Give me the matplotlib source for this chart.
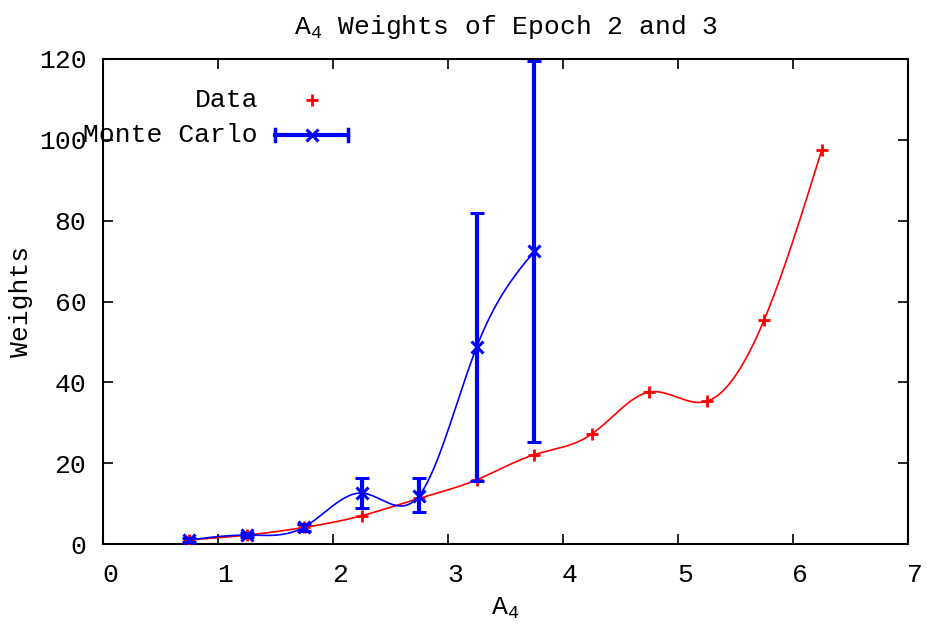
import numpy as np
import matplotlib
matplotlib.use("Agg")
import matplotlib.pyplot as plt
from matplotlib.transforms import ScaledTranslation

plt.rcParams['font.family'] = ['Liberation Mono', 'DejaVu Sans Mono']
plt.rcParams['mathtext.fontset'] = 'custom'
plt.rcParams['mathtext.rm'] = 'Liberation Mono'
plt.rcParams['mathtext.it'] = 'Liberation Mono'

# Data
data_x = [0.75, 1.25, 1.75, 2.25, 2.75, 3.25, 3.75, 4.25, 4.75, 5.25, 5.75, 6.25]
data_y = [1.0, 2.2, 4.1, 7.0, 11.3, 15.9, 22.1, 27.2, 37.6, 35.3, 55.5, 97.5]

mc_x = [0.75, 1.25, 1.75, 2.25, 2.75, 3.25, 3.75]
mc_y = [1.0, 2.2, 4.2, 12.6, 12.0, 48.8, 72.4]
mc_lo = [0.6, 1.8, 3.3, 8.8, 7.8, 15.5, 25.2]
mc_hi = [1.4, 2.6, 5.0, 16.3, 16.3, 82.0, 119.5]

xticks = [0, 1, 2, 3, 4, 5, 6, 7]
yticks = [0, 20, 40, 60, 80, 100, 120]


def natural_cspline(x, y, n=400):
    x = np.asarray(x, float)
    y = np.asarray(y, float)
    m = len(x)
    h = np.diff(x)
    A = np.zeros((m, m))
    b = np.zeros(m)
    A[0, 0] = 1
    A[-1, -1] = 1
    for i in range(1, m - 1):
        A[i, i - 1] = h[i - 1]
        A[i, i] = 2 * (h[i - 1] + h[i])
        A[i, i + 1] = h[i]
        b[i] = 6 * ((y[i + 1] - y[i]) / h[i] - (y[i] - y[i - 1]) / h[i - 1])
    M = np.linalg.solve(A, b)
    xs = np.linspace(x[0], x[-1], n)
    idx = np.clip(np.searchsorted(x, xs) - 1, 0, m - 2)
    x0 = x[idx]
    x1 = x[idx + 1]
    hh = x1 - x0
    t0 = x1 - xs
    t1 = xs - x0
    ys = (M[idx] * t0 ** 3 / (6 * hh) + M[idx + 1] * t1 ** 3 / (6 * hh)
          + (y[idx] / hh - M[idx] * hh / 6) * t0
          + (y[idx + 1] / hh - M[idx + 1] * hh / 6) * t1)
    return xs, ys


fig = plt.figure(figsize=(9.27, 6.3), dpi=100)
ax = fig.add_axes([103 / 927, 1 - 544 / 630, 805 / 927, 485 / 630])

fs = 19

# Data curve
sx, sy = natural_cspline(data_x, data_y)
ax.plot(sx, sy, color='#ff0000', lw=1.2, zorder=3)
ax.plot(data_x, data_y, linestyle='none', marker='+', color='#ff0000',
        ms=8, mew=2, zorder=4)

# Monte Carlo curve
mx, my = natural_cspline(mc_x, mc_y)
ax.plot(mx, my, color='#0000ff', lw=1.2, zorder=5)
yerr = [np.array(mc_y) - np.array(mc_lo), np.array(mc_hi) - np.array(mc_y)]
ax.errorbar(mc_x, mc_y, yerr=yerr, fmt='x', color='#0000ff', ms=8, mew=2.2,
            elinewidth=3, capsize=5, capthick=2.5, zorder=6)

ax.set_xlim(0, 7)
ax.set_ylim(0, 120)
ax.set_xticks(xticks)
ax.set_yticks(yticks)
ax.tick_params(direction='in', length=7, width=1.2, top=True, right=True,
               labelsize=fs, colors='black')
ax.tick_params(axis='x', pad=14)
ax.tick_params(axis='y', pad=12)
for sp in ax.spines.values():
    sp.set_linewidth(1.5)

shift = ScaledTranslation(7 / 100, 0, fig.dpi_scale_trans)
for lab in ax.get_xticklabels():
    lab.set_transform(lab.get_transform() + shift)

ax.set_title(r'A$_{\mathrm{4}}$ Weights of Epoch 2 and 3', fontsize=fs, pad=18)
ax.set_xlabel(r'A$_{\mathrm{4}}$', fontsize=fs, labelpad=6)
ax.set_ylabel('Weights', fontsize=fs)
ax.yaxis.set_label_coords(-0.087, 0.5)

# Key (gnuplot style)
tr = ax.transAxes
ax.text(0.1925, 0.9155, 'Data', transform=tr, ha='right', va='center', fontsize=fs)
ax.plot([0.2596], [0.9155], transform=tr, marker='+', color='#ff0000',
        ms=8, mew=2, linestyle='none', clip_on=False)
ax.text(0.1925, 0.8433, 'Monte Carlo', transform=tr, ha='right', va='center', fontsize=fs)
ax.plot([0.2137, 0.3043], [0.8433, 0.8433], transform=tr, color='#0000ff', lw=3,
        clip_on=False)
for xe in (0.2137, 0.3043):
    ax.plot([xe, xe], [0.8433 - 0.012, 0.8433 + 0.012], transform=tr,
            color='#0000ff', lw=2.5, clip_on=False)
ax.plot([0.2596], [0.8433], transform=tr, marker='x', color='#0000ff',
        ms=8, mew=2.2, linestyle='none', clip_on=False)

fig.savefig('out.png', dpi=100)
